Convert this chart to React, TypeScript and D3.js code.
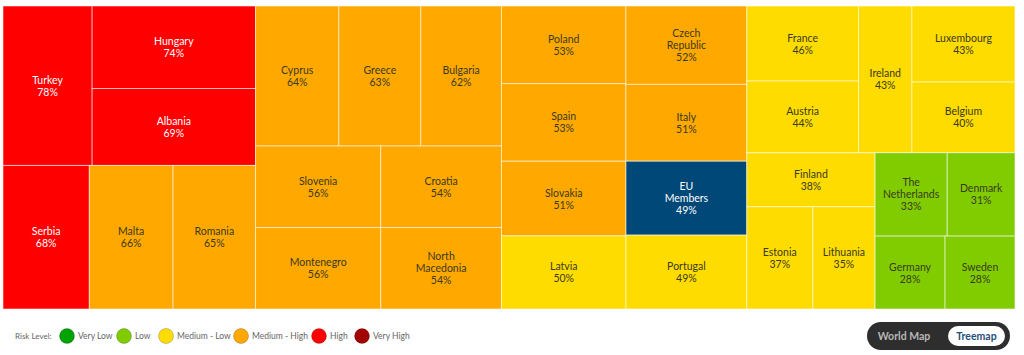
import React from "react";
import * as d3 from "d3";

const countries = ["Turkey","Hungary","Albania","Serbia","Malta","Romania","Cyprus","Greece","Bulgaria","Slovenia","Montenegro","Croatia","North Macedonia","Poland","Spain","Czech Republic","Italy","Slovakia","Latvia","EU Members","Portugal","France","Austria","Ireland","Luxembourg","Belgium","Finland","Estonia","Lithuania","The Netherlands","Denmark","Germany","Sweden"];
const values = [78,74,69,68,66,65,64,63,62,56,56,54,54,53,53,52,51,51,50,49,49,46,44,43,43,40,38,37,35,33,31,28,28];
const levels = ["High","High","High","High","Medium - High","Medium - High","Medium - High","Medium - High","Medium - High","Medium - High","Medium - High","Medium - High","Medium - High","Medium - High","Medium - High","Medium - High","Medium - High","Medium - High","Medium - Low","EU","Medium - Low","Medium - Low","Medium - Low","Medium - Low","Medium - Low","Medium - Low","Medium - Low","Medium - Low","Medium - Low","Low","Low","Low","Low"];

const legendLevels = ["Very Low","Low","Medium - Low","Medium - High","High","Very High"];
const legendColors = ["#00a300","#80cc00","#ffdc00","#ffa800","#ff0000","#a30000"];
const toggleLabels = ["World Map","Treemap"];

const W = 1024, H = 355;
const X0 = 3, X1 = 1015, Y0 = 6, Y1 = 309;
const SQUEEZE = 0.955;

const colorOf = (lvl: string) => lvl === "EU" ? "#004878" : legendColors[legendLevels.indexOf(lvl)];
const textOf = (lvl: string) => (lvl === "High" || lvl === "Very High" || lvl === "EU") ? "#ffffff" : "#3a3a1a";

export default function App() {
  const lw = (X1 - X0) * SQUEEZE, lh = Y1 - Y0;
  const root = d3.hierarchy({ children: countries.map((c, i) => ({ name: c, value: values[i], level: levels[i] })) } as any)
    .sum((d: any) => d.value || 0);
  d3.treemap().tile(d3.treemapBinary).size([lw, lh])(root as any);
  const xs = d3.scaleLinear().domain([0, lw]).range([X0, X1]);
  const ys = d3.scaleLinear().domain([0, lh]).range([Y0, Y1]);
  const leaves = root.leaves() as any[];

  const legendX = [67, 124, 166, 241, 319, 362];
  return (
    <svg width={W} height={H} style={{ position: "absolute", left: 0, top: 0, fontFamily: "Lato, 'Noto Sans', sans-serif" }}>
      <rect x={0} y={0} width={W} height={H} fill="#ffffff" />
      {leaves.map((n, i) => {
        const x = xs(n.x0), y = ys(n.y0), w = xs(n.x1) - xs(n.x0), h = ys(n.y1) - ys(n.y0);
        const lines = [...n.data.name.split(" "), `${n.data.value}%`];
        const cx = x + w / 2, cy = y + h / 2;
        const lh2 = 12;
        return (
          <g key={i}>
            <rect x={x} y={y} width={w} height={h} fill={colorOf(n.data.level)} stroke="rgba(255,255,255,0.55)" strokeWidth={1} />
            <text x={cx} y={cy - ((lines.length - 1) * lh2) / 2} textAnchor="middle" fontSize={10.5} fill={textOf(n.data.level)} dominantBaseline="central">
              {lines.map((l, j) => (
                <tspan key={j} x={cx} dy={j === 0 ? 0 : lh2}>{l}</tspan>
              ))}
            </text>
          </g>
        );
      })}
      <text x={15} y={339} fontSize={8} fill="#666">Risk Level:</text>
      {legendLevels.map((l, i) => (
        <g key={l}>
          <circle cx={legendX[i]} cy={336} r={7.5} fill={legendColors[i]} stroke="rgba(0,0,0,0.25)" strokeWidth={0.8} />
          <text x={legendX[i] + 11} y={339} fontSize={8.5} fill="#666">{l}</text>
        </g>
      ))}
      <rect x={867} y={322} width={143} height={28} rx={14} fill="#2e2e2e" />
      <rect x={948} y={326} width={57} height={20} rx={10} fill="#ffffff" />
      <text x={904} y={340} textAnchor="middle" fontSize={10.5} fontWeight={700} fill="#b8b8b8">{toggleLabels[0]}</text>
      <text x={976.5} y={340} textAnchor="middle" fontSize={10.5} fontWeight={700} fill="#1f4f7a">{toggleLabels[1]}</text>
    </svg>
  );
}
